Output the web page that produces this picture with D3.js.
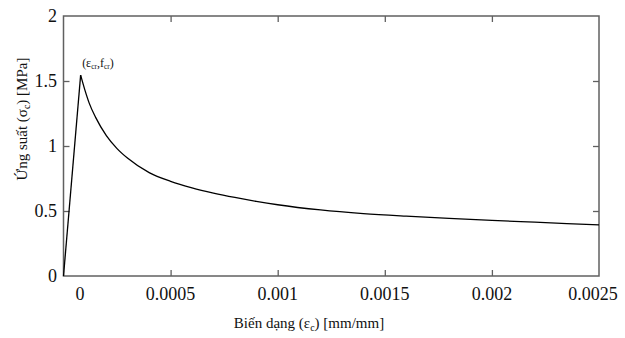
<!DOCTYPE html>
<html><head><meta charset="utf-8">
<script src="https://cdn.jsdelivr.net/npm/d3@7/dist/d3.min.js"></script>
<style>body{margin:0;background:#fff}svg{display:block}</style>
</head><body><svg id="c" width="625" height="338"></svg>
<script>
// data
const strain = [0, 0.00008, 0.0001, 0.00012, 0.00015, 0.0002, 0.00025, 0.0003, 0.0004, 0.0005, 0.0006, 0.0007, 0.0008, 0.0009, 0.001, 0.0012, 0.0014, 0.0016, 0.0018, 0.002, 0.0022, 0.0025];
const stress = [0, 1.545, 1.43, 1.33, 1.22, 1.08, 0.98, 0.905, 0.795, 0.728, 0.678, 0.638, 0.604, 0.574, 0.548, 0.508, 0.480, 0.460, 0.443, 0.428, 0.414, 0.393];
const xTicks = [0, 0.0005, 0.001, 0.0015, 0.002, 0.0025];
const xTickLabels = ["0", "0.0005", "0.001", "0.0015", "0.002", "0.0025"];
const yTicks = [0, 0.5, 1, 1.5, 2];
const yTickLabels = ["0", "0.5", "1", "1.5", "2"];

const FONT = '"Liberation Serif"';
const svg = d3.select("#c");
const L = 63.5, R = 599, T = 16, B = 276;
const x = d3.scaleLinear().domain([0, 0.0025]).range([L, R]);
const y = d3.scaleLinear().domain([0, 2]).range([B, T]);
const frame = "#606060";
const ink = "#111";

function txt(sel) { return sel.style("font-family", FONT).attr("fill", ink); }

// ticks (inward, mirrored)
const tk = 6;
const g = svg.append("g");
const xAxB = d3.axisBottom(x).tickValues(xTicks.slice(1, -1)).tickSizeInner(-tk).tickSizeOuter(0).tickFormat("");
const xAxT = d3.axisTop(x).tickValues(xTicks.slice(1, -1)).tickSizeInner(-tk).tickSizeOuter(0).tickFormat("");
const yAxL = d3.axisLeft(y).tickValues(yTicks.slice(1, -1)).tickSizeInner(-tk).tickSizeOuter(0).tickFormat("");
const yAxR = d3.axisRight(y).tickValues(yTicks.slice(1, -1)).tickSizeInner(-tk).tickSizeOuter(0).tickFormat("");
[[xAxB, `translate(0,${B})`], [xAxT, `translate(0,${T})`], [yAxL, `translate(${L},0)`], [yAxR, `translate(${R},0)`]].forEach(([ax, tr]) => {
  const a = g.append("g").attr("transform", tr).call(ax);
  a.select(".domain").remove();
  a.selectAll("line").attr("stroke", frame).attr("stroke-width", 1.3);
});
svg.append("rect").attr("x", L).attr("y", T).attr("width", R - L).attr("height", B - T)
  .attr("fill", "none").attr("stroke", frame).attr("stroke-width", 1.5);

// tick labels
xTicks.forEach((v, i) => {
  let dx = 0;
  if (i === 0) dx = 16.5;
  if (i === xTicks.length - 1) dx = -6;
  txt(svg.append("text")).attr("x", x(v) + dx).attr("y", 300).attr("text-anchor", "middle")
    .attr("font-size", 18).text(xTickLabels[i]);
});
yTicks.forEach((v, i) => {
  txt(svg.append("text")).attr("x", 57).attr("y", y(v) + 6).attr("text-anchor", "end")
    .attr("font-size", 18).text(yTickLabels[i]);
});

// curve
const pts = strain.map((s, i) => [s, stress[i]]);
svg.append("path").datum(pts.slice(0, 2))
  .attr("d", d3.line().x(d => x(d[0])).y(d => y(d[1])))
  .attr("fill", "none").attr("stroke", "#000").attr("stroke-width", 1.3);
svg.append("path").datum(pts.slice(1))
  .attr("d", d3.line().x(d => x(d[0])).y(d => y(d[1])).curve(d3.curveMonotoneX))
  .attr("fill", "none").attr("stroke", "#000").attr("stroke-width", 1.3);

// peak label
const pk = txt(svg.append("text")).attr("x", x(strain[1]) + 1.5).attr("y", y(stress[1]) - 8)
  .attr("font-size", 12);
pk.append("tspan").text("(ε");
pk.append("tspan").attr("font-size", 7.5).attr("dy", 2).text("cr");
pk.append("tspan").attr("dy", -2).text(",f");
pk.append("tspan").attr("font-size", 7.5).attr("dy", 2).text("cr");
pk.append("tspan").attr("dy", -2).text(")");

// axis titles
const xt = txt(svg.append("text")).attr("x", 309).attr("y", 328).attr("text-anchor", "middle")
  .attr("font-size", 15);
xt.append("tspan").text("Biến dạng (ε");
xt.append("tspan").attr("font-size", 10).attr("dy", 3).text("c");
xt.append("tspan").attr("dy", -3).text(") [mm/mm]");

const yt = txt(svg.append("text")).attr("transform", "translate(27,119) rotate(-90)").attr("text-anchor", "middle")
  .attr("font-size", 15);
yt.append("tspan").text("Ứng suất (σ");
yt.append("tspan").attr("font-size", 10).attr("dy", 3).text("c");
yt.append("tspan").attr("dy", -3).text(") [MPa]");
</script></body></html>
